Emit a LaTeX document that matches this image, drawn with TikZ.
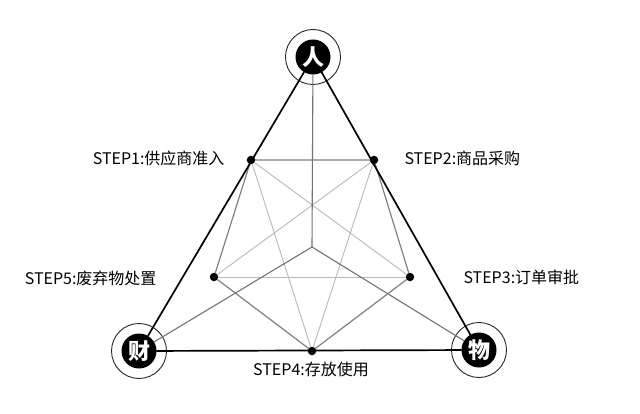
\documentclass[tikz,border=0pt]{standalone}
\usepackage{fontspec}
\setmainfont{Noto Sans CJK SC}
\usetikzlibrary{positioning}

\begin{document}
\begin{tikzpicture}[x=1pt,y=-1pt,line cap=round,
  hub/.style={circle,fill=black,text=white,inner sep=0pt,minimum size=35pt,font=\fontsize{22}{22}\selectfont\bfseries},
  ring/.style={draw=black!85,line width=0.9pt},
  side/.style={black,line width=1.7pt},
  rim/.style={black!50,line width=1.2pt},
  spoke/.style={black!55,line width=1.1pt},
  star/.style={black!28,line width=0.9pt},
  dot/.style={circle,fill=black,inner sep=0pt,minimum size=8.5pt},
  lbl/.style={font=\fontsize{16}{17}\selectfont}]
\useasboundingbox (0,0) rectangle (640,414);
% corners
\node[hub] (ren) at (313,57) {人};
\node[hub] (cai) at (139,351) {财};
\node[hub] (wu) at (479,350) {物};
\draw[ring] (ren) circle (27.5pt);
\draw[ring] (cai) circle (27.5pt);
\draw[ring] (wu) circle (27.5pt);
\coordinate (mid) at (312,247);
% steps
\node[dot] (s1) at (251,160) {};
\node[dot] (s2) at (374,160) {};
\node[dot] (s3) at (410,277) {};
\node[dot] (s4) at (312,351) {};
\node[dot] (s5) at (214,277) {};
% star
\draw[star] (s1) -- (s3);
\draw[star] (s1) -- (s4);
\draw[star] (s2) -- (s5);
\draw[star] (s2) -- (s4);
\draw[star] (s5) -- (s3);
% spokes
\draw[spoke] (mid) -- (ren);
\draw[spoke] (mid) -- (cai);
\draw[spoke] (mid) -- (wu);
% pentagon
\draw[rim] (s1) -- (s2) -- (s3) -- (s4) -- (s5) -- (s1);
% triangle
\draw[side] (ren) -- (cai) -- (wu) -- (ren);
% labels
\node[lbl,anchor=east] (l1) at (228,158) {STEP1:供应商准入};
\node[lbl,anchor=west] (l2) at (401,158) {STEP2:商品采购};
\node[lbl,anchor=west] (l3) at (460,277) {STEP3:订单审批};
\node[lbl] (l4) at (311,369) {STEP4:存放使用};
\node[lbl,anchor=east] (l5) at (160,278) {STEP5:废弃物处置};
\end{tikzpicture}
\end{document}
